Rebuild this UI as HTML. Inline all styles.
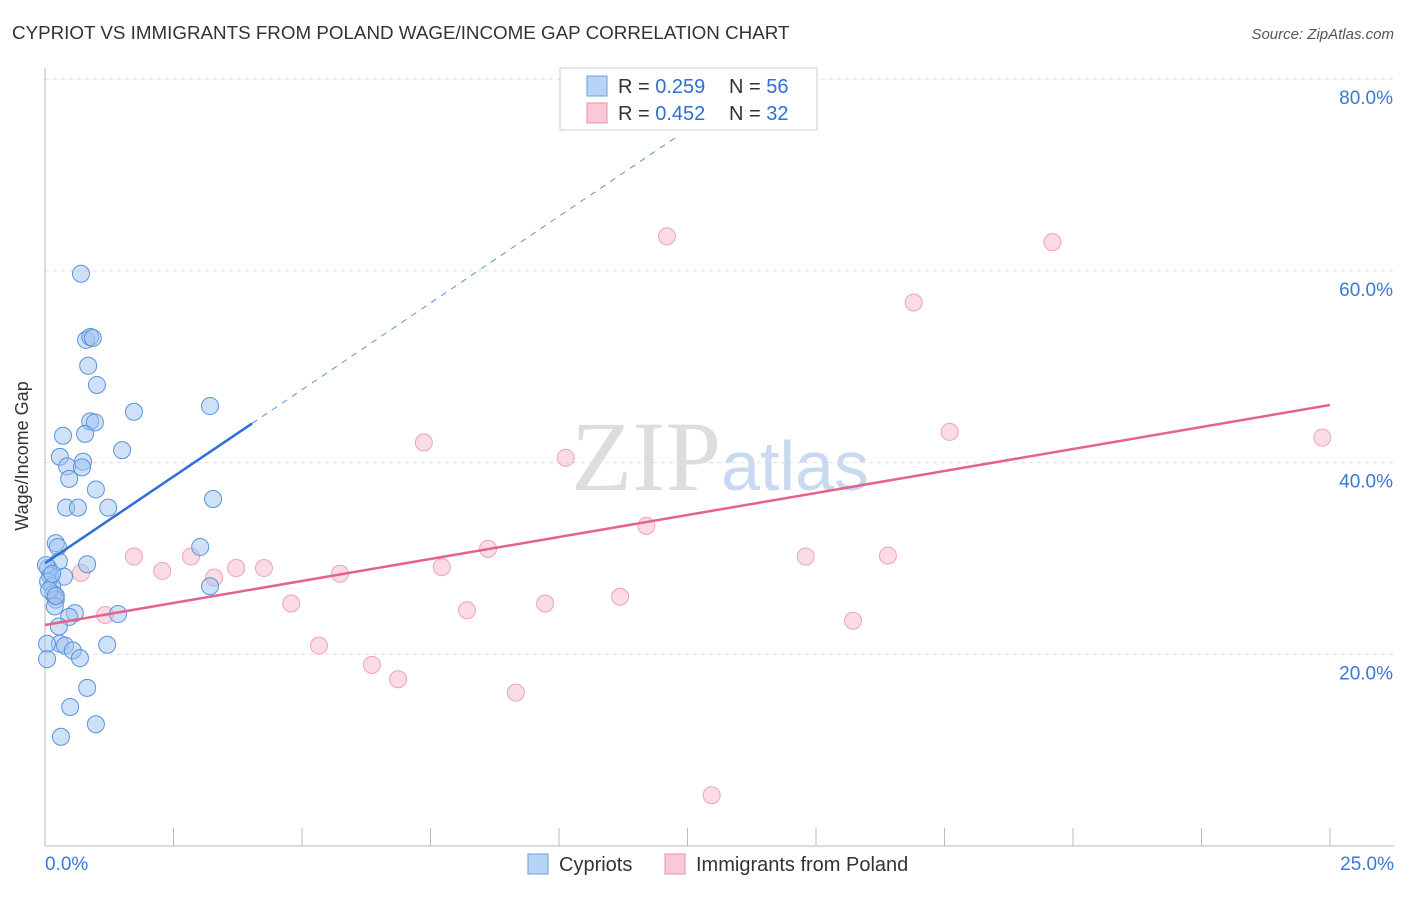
<!DOCTYPE html>
<html><head><meta charset="utf-8"><style>
body{margin:0;background:#fff;font-family:"Liberation Sans",sans-serif}
</style></head><body>
<svg id="chart" width="1406" height="892" xmlns="http://www.w3.org/2000/svg">
<text x="12" y="39" font-size="18.8" fill="#333">CYPRIOT VS IMMIGRANTS FROM POLAND WAGE/INCOME GAP CORRELATION CHART</text>
<text x="1394" y="39" font-size="15" fill="#555" font-style="italic" text-anchor="end">Source: ZipAtlas.com</text>
<text x="28" y="456" font-size="18" fill="#333" text-anchor="middle" transform="rotate(-90 28 456)">Wage/Income Gap</text>
<text x="720" y="490" font-size="100" fill="#ddd" text-anchor="middle" font-family="Liberation Serif,serif">ZIP<tspan fill="#c9d9ef" font-family="Liberation Sans,sans-serif" font-size="70">atlas</tspan></text>
<g id="grid"></g><g id="axes"></g><g id="marks"></g>
<g>
<rect x="560" y="68" width="257" height="62" fill="#fff" stroke="#ccc"/>
<rect x="587" y="76" width="20" height="20" fill="#b8d3f5" stroke="#6d9fdf"/>
<text x="618" y="93" font-size="20" fill="#333">R = <tspan fill="#2f6fd4">0.259</tspan></text>
<text x="729" y="93" font-size="20" fill="#333">N = <tspan fill="#2f6fd4">56</tspan></text>
<rect x="587" y="103" width="20" height="20" fill="#f9c9d8" stroke="#e890ab"/>
<text x="618" y="120" font-size="20" fill="#333">R = <tspan fill="#2f6fd4">0.452</tspan></text>
<text x="729" y="120" font-size="20" fill="#333">N = <tspan fill="#2f6fd4">32</tspan></text>
</g>
<g>
<rect x="528" y="854" width="20" height="20" fill="#b8d3f5" stroke="#6d9fdf"/>
<text x="559" y="871" font-size="20" fill="#333">Cypriots</text>
<rect x="665" y="854" width="20" height="20" fill="#f9c9d8" stroke="#e890ab"/>
<text x="696" y="871" font-size="20" fill="#333">Immigrants from Poland</text>
</g>
</svg>
<script>
const yTicks=[20,40,60,80];
const yTickLabels=["20.0%","40.0%","60.0%","80.0%"];
const xTicks=[0,2.5,5,7.5,10,12.5,15,17.5,20,22.5,25];
const blueX=[0.70,0.80,0.88,0.93,0.84,1.01,1.73,3.21,0.88,0.97,0.35,0.78,0.29,0.43,0.74,0.72,1.50,0.47,0.99,0.41,0.64,1.23,3.27,0.21,0.25,3.02,0.82,0.27,0.06,0.10,0.37,0.06,0.14,0.16,0.21,0.19,0.58,1.42,0.47,0.27,0.29,0.39,0.04,0.54,0.68,1.21,0.04,0.82,0.49,0.99,0.31,3.21,0.08,0.21,0.02,0.14];
const blueY=[59.7,52.8,53.1,53.0,50.1,48.1,45.3,45.9,44.3,44.2,42.8,43.0,40.6,39.6,40.1,39.5,41.3,38.3,37.2,35.3,35.3,35.3,36.2,31.6,31.2,31.2,29.4,29.7,29.0,28.2,28.1,27.6,27.1,26.3,25.7,25.0,24.3,24.2,23.9,22.9,21.1,20.9,21.1,20.4,19.6,21.0,19.5,16.5,14.5,12.7,11.4,27.1,26.7,26.1,29.3,28.4];
const pinkX=[12.1,19.6,16.9,7.37,10.13,17.6,24.85,11.7,8.62,1.73,2.84,14.8,16.4,0.7,2.28,3.72,4.26,3.29,5.74,7.72,4.79,8.21,9.73,11.19,1.17,15.72,5.33,6.36,6.87,9.16,12.97,0.2];
const pinkY=[63.6,63.0,56.7,42.1,40.5,43.2,42.6,33.4,31.0,30.2,30.2,30.2,30.3,28.5,28.7,29.0,29.0,28.0,28.4,29.1,25.3,24.6,25.3,26.0,24.1,23.5,20.9,18.9,17.4,16.0,5.3,26.0];
const blueLine=[29.5,3.62];
const pinkLine=[23.06,0.918];
const X=v=>45+v/25*1285, Y=v=>846-v/20*191.7;
const NS="http://www.w3.org/2000/svg";
function mk(p,t,a){const e=document.createElementNS(NS,t);for(const k in a)e.setAttribute(k,a[k]);document.getElementById(p).appendChild(e);return e;}
yTicks.forEach((t,i)=>{
 const g=mk('grid','line',{x1:45,x2:1394,y1:Y(t),y2:Y(t),stroke:'#ddd','stroke-dasharray':'4,4'});
 
 
 const l=mk('axes','text',{x:1393,y:Y(t)+25,'font-size':19,fill:'#3a78d4','text-anchor':'end'});l.textContent=yTickLabels[i];
 
 
});
const ax=mk('axes','line',{x1:45,x2:45,y1:68,y2:846,stroke:'#bbb'});


const bx=mk('axes','line',{x1:45,x2:1394,y1:846,y2:846,stroke:'#bbb'});


xTicks.forEach(t=>{const e=mk('axes','line',{x1:X(t),x2:X(t),y1:828,y2:846,stroke:'#bbb'});
 
 });
let t0=mk('axes','text',{x:45,y:870,'font-size':19,fill:'#3a78d4'});t0.textContent='0.0%';


let t1=mk('axes','text',{x:1394,y:870,'font-size':19,fill:'#3a78d4','text-anchor':'end'});t1.textContent='25.0%';


pinkX.forEach((v,i)=>{const c=mk('marks','circle',{cx:X(v),cy:Y(pinkY[i]),r:8.5,fill:'rgba(246,175,198,0.45)',stroke:'#eea3bb','stroke-width':1});
 
 });
blueX.forEach((v,i)=>{const c=mk('marks','circle',{cx:X(v),cy:Y(blueY[i]),r:8.5,fill:'rgba(160,196,240,0.5)',stroke:'#5b92dc','stroke-width':1});
 
 });
const bl=a=>blueLine[0]+blueLine[1]*a;
let d=mk('marks','line',{x1:X(4.03),y1:Y(bl(4.03)),x2:X(12.3),y2:Y(bl(12.3)),stroke:'#5b92dc','stroke-dasharray':'6,6','stroke-width':1});


let s=mk('marks','line',{x1:X(0),y1:Y(bl(0)),x2:X(4.03),y2:Y(bl(4.03)),stroke:'#2d6fd6','stroke-width':2.5});


const pl=a=>pinkLine[0]+pinkLine[1]*a;
let p=mk('marks','line',{x1:X(0),y1:Y(pl(0)),x2:X(25),y2:Y(pl(25)),stroke:'#e4638e','stroke-width':2.5});


</script>
</body></html>
